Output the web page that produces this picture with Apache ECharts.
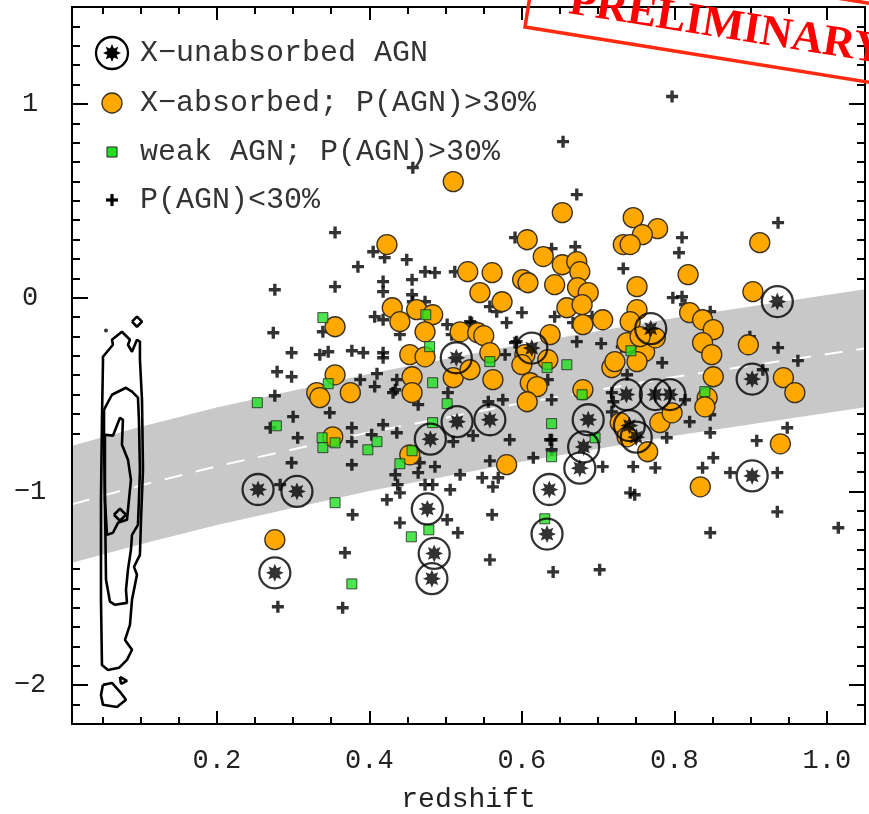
<!DOCTYPE html>
<html><head><meta charset="utf-8">
<script src="https://cdn.jsdelivr.net/npm/echarts@6.0.0/dist/echarts.min.js"></script>
<style>html,body{margin:0;padding:0;background:#fff}#chart{width:869px;height:814px}</style>
</head><body><div id="chart"></div>
<script>
// ---------- axis ticks ----------
const xMajorTicks = [0.2, 0.4, 0.6, 0.8, 1.0];
const xMinorTicks = [0.05,0.1,0.15,0.25,0.3,0.35,0.45,0.5,0.55,0.65,0.7,0.75,0.85,0.9,0.95];
const yMajorTicks = [-2, -1, 0, 1];
const yMinorTicks = [-2.1,-1.9,-1.8,-1.7,-1.6,-1.5,-1.4,-1.3,-1.2,-1.1,-0.9,-0.8,-0.7,-0.6,-0.5,-0.4,-0.3,-0.2,-0.1,0.1,0.2,0.3,0.4,0.5,0.6,0.7,0.8,0.9,1.1,1.2,1.3,1.4];
const xRange = [0.01, 1.05];
const yRange = [-2.2, 1.5];

// ---------- shaded relation band ----------
const bandZ    = [0.01, 0.1, 0.2, 0.4, 0.6, 0.8, 1.05];
const bandHigh = [-0.764, -0.666, -0.567, -0.392, -0.240, -0.105, 0.043];
const bandLow  = [-1.368, -1.272, -1.173, -0.998, -0.847, -0.713, -0.566];
const bandMid  = [-1.066, -0.969, -0.870, -0.695, -0.544, -0.409, -0.262];

// ---------- local-galaxy contours ----------
const contourOuter = [[0.0506,-0.336],[0.0506,-0.305],[0.0637,-0.243],[0.0624,-0.217],[0.0755,-0.176],[0.086,-0.217],[0.0834,-0.243],[0.0887,-0.279],[0.0952,-0.217],[0.0991,-0.227],[0.0991,-0.320],[0.1018,-0.527],[0.1031,-0.888],[0.1005,-1.146],[0.0991,-1.327],[0.0913,-1.389],[0.0952,-1.430],[0.0887,-1.559],[0.086,-1.688],[0.0795,-1.766],[0.0887,-1.817],[0.0821,-1.869],[0.0716,-1.910],[0.0572,-1.921],[0.0493,-1.895],[0.048,-1.559],[0.048,-1.043],[0.0493,-0.630],[0.0506,-0.336]];
const contourMiddle = [[0.052,-0.578],[0.0624,-0.501],[0.0808,-0.465],[0.0887,-0.485],[0.0965,-0.516],[0.0978,-0.630],[0.0991,-0.888],[0.0978,-1.043],[0.0965,-1.172],[0.0887,-1.224],[0.0873,-1.301],[0.0834,-1.404],[0.0808,-1.508],[0.0821,-1.575],[0.0664,-1.585],[0.0598,-1.569],[0.0546,-1.456],[0.0532,-1.043],[0.052,-0.733],[0.052,-0.578]];
const contourInner = [[0.0532,-0.707],[0.0637,-0.712],[0.0729,-0.620],[0.0768,-0.630],[0.0755,-0.759],[0.0834,-0.836],[0.0873,-0.940],[0.0847,-1.043],[0.0821,-1.146],[0.0703,-1.162],[0.0637,-1.213],[0.0559,-1.224],[0.0532,-1.043],[0.0532,-0.707]];
const contourIslandTop = [[0.0887,-0.124],[0.0952,-0.098],[0.1018,-0.124],[0.0952,-0.150],[0.0887,-0.124]];
const contourIslandMid = [[0.0650,-1.120],[0.0729,-1.089],[0.0808,-1.120],[0.0729,-1.151],[0.0650,-1.120]];
const contourIslandTri = [[0.0729,-1.957],[0.0821,-1.977],[0.0742,-1.993],[0.0729,-1.957]];
const contourIslandLow = [[0.0506,-1.998],[0.0624,-1.988],[0.0729,-2.034],[0.0808,-2.075],[0.069,-2.112],[0.0506,-2.101],[0.048,-2.050],[0.0506,-1.998]];
const contourDot = [[0.0546,-0.170]];

// ---------- sources: [redshift, y] ----------
const xUnabsorbed = [[0.254,-0.99],[0.305,-1.00],[0.276,-1.42],[0.514,-0.31],[0.515,-0.64],[0.480,-0.73],[0.476,-1.09],[0.485,-1.32],[0.482,-1.45],[0.558,-0.63],[0.613,-0.26],[0.636,-0.99],[0.633,-1.22],[0.687,-0.63],[0.681,-0.77],[0.676,-0.88],[0.737,-0.50],[0.741,-0.66],[0.750,-0.72],[0.769,-0.16],[0.775,-0.50],[0.794,-0.50],[0.902,-0.42],[0.902,-0.92],[0.935,-0.02]];

const xAbsorbed = [[0.276,-1.249],[0.355,-0.150],[0.355,-0.398],[0.331,-0.490],[0.335,-0.516],[0.375,-0.490],[0.352,-0.718],[0.423,0.274],[0.430,-0.052],[0.440,-0.124],[0.462,-0.062],[0.483,-0.088],[0.473,-0.176],[0.453,-0.294],[0.473,-0.305],[0.456,-0.408],[0.456,-0.490],[0.453,-0.811],[0.510,0.599],[0.510,-0.413],[0.532,-0.372],[0.519,-0.176],[0.542,-0.181],[0.550,-0.196],[0.529,0.134],[0.561,0.129],[0.545,0.026],[0.574,-0.021],[0.558,-0.284],[0.562,-0.423],[0.580,-0.862],[0.607,0.299],[0.628,0.212],[0.601,0.093],[0.608,0.077],[0.643,0.067],[0.637,-0.191],[0.604,-0.294],[0.634,-0.320],[0.600,-0.346],[0.611,-0.439],[0.620,-0.459],[0.607,-0.537],[0.653,0.439],[0.653,0.170],[0.672,0.186],[0.676,0.134],[0.673,0.052],[0.687,0.026],[0.659,-0.052],[0.679,-0.036],[0.680,-0.139],[0.706,-0.114],[0.680,-0.475],[0.746,0.413],[0.778,0.356],[0.758,0.325],[0.733,0.274],[0.742,0.274],[0.751,0.057],[0.751,-0.062],[0.742,-0.124],[0.738,-0.232],[0.761,-0.279],[0.751,-0.330],[0.775,-0.207],[0.718,-0.361],[0.722,-0.330],[0.729,-0.645],[0.738,-0.718],[0.765,-0.795],[0.781,-0.645],[0.797,-0.594],[0.818,0.119],[0.820,-0.077],[0.837,-0.114],[0.851,-0.165],[0.837,-0.232],[0.849,-0.294],[0.851,-0.408],[0.843,-0.516],[0.840,-0.563],[0.834,-0.976],[0.897,-0.243],[0.912,0.284],[0.903,0.031],[0.943,-0.413],[0.958,-0.490],[0.939,-0.754],[0.755,-0.201]];

const weakAGN = [[0.253,-0.542],[0.278,-0.661],[0.339,-0.103],[0.346,-0.444],[0.338,-0.723],[0.339,-0.774],[0.355,-0.749],[0.398,-0.785],[0.410,-0.743],[0.355,-1.058],[0.377,-1.477],[0.440,-0.857],[0.456,-0.790],[0.483,-0.439],[0.474,-0.088],[0.479,-0.253],[0.502,-0.547],[0.483,-0.645],[0.455,-1.234],[0.478,-1.198],[0.558,-0.330],[0.633,-0.361],[0.659,-0.346],[0.639,-0.650],[0.639,-0.821],[0.630,-1.141],[0.679,-0.501],[0.743,-0.274],[0.840,-0.485],[0.696,-0.723]];

const lowPAGN = [[0.457,0.671],[0.355,0.336],[0.405,0.237],[0.420,0.207],[0.449,0.196],[0.385,0.160],[0.473,0.134],[0.486,0.129],[0.512,0.134],[0.276,0.041],[0.355,0.057],[0.418,0.083],[0.418,0.031],[0.456,0.093],[0.456,0.015],[0.457,-0.021],[0.473,-0.021],[0.591,0.310],[0.639,0.253],[0.558,-0.046],[0.567,-0.072],[0.600,-0.077],[0.580,-0.129],[0.643,-0.098],[0.407,-0.098],[0.418,-0.114],[0.274,-0.181],[0.339,-0.176],[0.298,-0.284],[0.335,-0.294],[0.346,-0.279],[0.377,-0.274],[0.392,-0.284],[0.418,-0.284],[0.418,-0.310],[0.502,-0.139],[0.532,-0.124],[0.508,-0.191],[0.440,-0.191],[0.578,-0.294],[0.593,-0.227],[0.279,-0.382],[0.298,-0.408],[0.276,-0.506],[0.410,-0.392],[0.388,-0.423],[0.407,-0.459],[0.431,-0.490],[0.503,-0.490],[0.300,-0.614],[0.270,-0.671],[0.306,-0.723],[0.298,-0.852],[0.283,-0.965],[0.348,-0.594],[0.377,-0.671],[0.377,-0.743],[0.377,-0.862],[0.418,-0.656],[0.436,-0.697],[0.403,-0.707],[0.378,-1.120],[0.368,-1.316],[0.365,-1.600],[0.280,-1.595],[0.423,-1.043],[0.440,-1.162],[0.434,-0.914],[0.437,-0.965],[0.440,-1.007],[0.434,-0.475],[0.464,-0.552],[0.436,-0.423],[0.464,-0.903],[0.466,-0.852],[0.473,-0.965],[0.483,-0.965],[0.506,-0.991],[0.502,-1.146],[0.516,-1.213],[0.519,-0.914],[0.536,-0.712],[0.510,-0.743],[0.486,-0.872],[0.556,-0.537],[0.575,-0.527],[0.584,-0.733],[0.558,-0.842],[0.548,-0.929],[0.569,-0.929],[0.562,-0.976],[0.561,-1.120],[0.558,-1.353],[0.615,-0.826],[0.637,-0.733],[0.641,-1.415],[0.672,0.532],[0.670,0.263],[0.733,0.150],[0.810,0.310],[0.806,0.232],[0.798,0.000],[0.810,0.005],[0.814,-0.036],[0.534,-0.129],[0.667,-0.129],[0.692,-0.098],[0.672,-0.227],[0.704,-0.237],[0.591,-0.232],[0.784,-0.336],[0.634,-0.423],[0.797,1.038],[0.654,0.805],[0.936,0.387],[0.847,-0.072],[0.936,-0.258],[0.962,-0.325],[0.731,-0.253],[0.899,-0.201],[0.814,-0.527],[0.720,-0.537],[0.718,-0.589],[0.820,-0.640],[0.847,-0.604],[0.847,-0.697],[0.790,-0.723],[0.948,-0.671],[0.908,-0.738],[0.851,-0.826],[0.837,-0.878],[0.873,-0.903],[0.935,-0.903],[0.706,-0.872],[0.746,-0.872],[0.775,-0.878],[0.742,-1.007],[0.748,-1.017],[0.935,-1.105],[1.015,-1.187],[0.847,-1.213],[0.702,-1.404],[0.639,-0.527],[0.639,-0.733],[0.639,-0.785],[0.718,-0.490],[0.738,-0.398],[0.916,-0.372]];

// ---------- legend ----------
const legendLabels = ['X\u2212unabsorbed AGN', 'X\u2212absorbed; P(AGN)>30%', 'weak AGN; P(AGN)>30%', 'P(AGN)<30%'];

// ---------- styles ----------
const ORANGE = '#FFA800';
const GREEN = '#22E022';
const ASTER_PTS = [[0,-10],[2.1,-5.1],[7.07,-7.07],[5.1,-2.1],[10,0],[5.1,2.1],[7.07,7.07],[2.1,5.1],[0,10],[-2.1,5.1],[-7.07,7.07],[-5.1,2.1],[-10,0],[-5.1,-2.1],[-7.07,-7.07],[-2.1,-5.1]];
const ASTERISK = 'M' + ASTER_PTS.map(p => p[0] + ',' + p[1]).join('L') + 'Z';
const PLUS = 'M-1.4,-5L1.4,-5L1.4,-1.4L5,-1.4L5,1.4L1.4,1.4L1.4,5L-1.4,5L-1.4,1.4L-5,1.4L-5,-1.4L-1.4,-1.4Z';
const MONO = '"Liberation Mono", "DejaVu Sans Mono", monospace';

const gridBox = {left: 72, top: 7, width: 793, height: 717};

function xAxisDef(gridIndex, position, ticks, len, withLabels) {
  return {
    type: 'value', gridIndex, position, min: xRange[0], max: xRange[1],
    axisLine: {show: false, onZero: false},
    splitLine: {show: false},
    axisTick: {show: true, inside: true, length: len, customValues: ticks, lineStyle: {color: '#000', width: 2}},
    axisLabel: withLabels ? {show: true, customValues: ticks, formatter: v => v.toFixed(1),
      fontFamily: MONO, fontSize: 27, color: '#222', margin: 23} : {show: false},
    name: withLabels ? 'redshift' : '', nameLocation: 'middle', nameGap: 62,
    nameTextStyle: {fontFamily: MONO, fontSize: 28, color: '#222'}
  };
}
function yAxisDef(gridIndex, position, ticks, len, withLabels) {
  return {
    type: 'value', gridIndex, position, min: yRange[0], max: yRange[1],
    axisLine: {show: false, onZero: false},
    splitLine: {show: false},
    axisTick: {show: true, inside: true, length: len, customValues: ticks, lineStyle: {color: '#000', width: 2}},
    axisLabel: withLabels ? {show: true, customValues: ticks, align: 'center',
      formatter: v => (v < 0 ? '\u2212' + Math.abs(v) : String(v)),
      fontFamily: MONO, fontSize: 27, color: '#222', margin: 42} : {show: false}
  };
}

function contourSeries(pts, name) {
  return {type: 'line', name, data: pts, symbol: 'none', silent: true, z: 3,
    lineStyle: {color: '#000', width: 2.6}};
}

const legAsterCx = 112, legAsterCy = 53, legAsterScale = 0.9;
const legPlusCx = 112, legPlusCy = 200;

const option = {
  animation: false,
  backgroundColor: '#fff',
  grid: [
    Object.assign({show: true, borderColor: '#000', borderWidth: 2, backgroundColor: 'transparent', z: 10,
      containLabel: false, outerBoundsMode: 'none'}, gridBox),
    Object.assign({show: false, containLabel: false, outerBoundsMode: 'none'}, gridBox)
  ],
  xAxis: [
    xAxisDef(0, 'bottom', xMajorTicks, 13, true),
    xAxisDef(0, 'top', xMajorTicks, 13, false),
    xAxisDef(1, 'bottom', xMinorTicks, 7, false),
    xAxisDef(1, 'top', xMinorTicks, 7, false)
  ],
  yAxis: [
    yAxisDef(0, 'left', yMajorTicks, 16, true),
    yAxisDef(0, 'right', yMajorTicks, 16, false),
    yAxisDef(1, 'left', yMinorTicks, 8, false),
    yAxisDef(1, 'right', yMinorTicks, 8, false)
  ],
  series: [
    {
      type: 'custom', name: 'band', silent: true, z: 1,
      data: [[bandZ[0], bandLow[0]]],
      renderItem: function (params, api) {
        const pts = [];
        for (let i = 0; i < bandZ.length; i++) pts.push(api.coord([bandZ[i], bandHigh[i]]));
        for (let i = bandZ.length - 1; i >= 0; i--) pts.push(api.coord([bandZ[i], bandLow[i]]));
        return {type: 'polygon', shape: {points: pts}, style: {fill: '#c8c8c8'}};
      }
    },
    {
      type: 'line', name: 'relation', silent: true, z: 2, symbol: 'none',
      data: bandZ.map((z, i) => [z, bandMid[i]]),
      lineStyle: {color: '#ffffff', width: 2, type: [18, 14]}
    },
    contourSeries(contourOuter, 'c1'),
    contourSeries(contourMiddle, 'c2'),
    contourSeries(contourInner, 'c3'),
    contourSeries(contourIslandTop, 'c4'),
    contourSeries(contourIslandMid, 'c5'),
    contourSeries(contourIslandTri, 'c6'),
    contourSeries(contourIslandLow, 'c7'),
    {type: 'scatter', name: 'dot', data: contourDot, symbol: 'circle', symbolSize: 4, silent: true, z: 3,
      itemStyle: {color: '#000'}},
    {type: 'scatter', name: 'P(AGN)<30%', data: lowPAGN, symbol: 'path://' + PLUS, symbolSize: 12, silent: true, z: 4,
      itemStyle: {color: '#000'}},
    {type: 'scatter', name: 'X-absorbed', data: xAbsorbed, symbol: 'circle', symbolSize: 20, silent: true, z: 5,
      itemStyle: {color: ORANGE, borderColor: '#3a3020', borderWidth: 1.3, opacity: 1}},
    {type: 'scatter', name: 'weak AGN', data: weakAGN, symbol: 'rect', symbolSize: 10, silent: true, z: 6,
      itemStyle: {color: GREEN, borderColor: '#222', borderWidth: 1}},
    {type: 'scatter', name: 'X-unabsorbed ring', data: xUnabsorbed, symbol: 'circle', symbolSize: 31, silent: true, z: 7,
      itemStyle: {color: 'rgba(0,0,0,0)', borderColor: '#000', borderWidth: 2.3}},
    {type: 'scatter', name: 'X-unabsorbed', data: xUnabsorbed, symbol: 'path://' + ASTERISK, symbolSize: 18, silent: true, z: 8,
      itemStyle: {color: '#000'}}
  ],
  graphic: [
    {type: 'circle', shape: {cx: legAsterCx, cy: legAsterCy, r: 16}, style: {fill: 'none', stroke: '#000', lineWidth: 2.3}, z: 20},
    {type: 'polygon', shape: {points: ASTER_PTS.map(p => [legAsterCx + p[0] * legAsterScale, legAsterCy + p[1] * legAsterScale])}, style: {fill: '#000'}, z: 20},
    {type: 'circle', shape: {cx: 112, cy: 103, r: 10}, style: {fill: ORANGE, stroke: '#3a3020', lineWidth: 1.3}, z: 20},
    {type: 'rect', shape: {x: 107, y: 147, width: 10, height: 10}, style: {fill: GREEN, stroke: '#222', lineWidth: 1}, z: 20},
    {type: 'rect', shape: {x: legPlusCx - 1.6, y: legPlusCy - 6, width: 3.2, height: 12}, style: {fill: '#000'}, z: 20},
    {type: 'rect', shape: {x: legPlusCx - 6, y: legPlusCy - 1.6, width: 12, height: 3.2}, style: {fill: '#000'}, z: 20},
    {type: 'text', x: 140, y: 53, z: 20, style: {text: legendLabels[0], font: '30px ' + MONO, fill: '#333', verticalAlign: 'middle'}},
    {type: 'text', x: 140, y: 103, z: 20, style: {text: legendLabels[1], font: '30px ' + MONO, fill: '#333', verticalAlign: 'middle'}},
    {type: 'text', x: 140, y: 152, z: 20, style: {text: legendLabels[2], font: '30px ' + MONO, fill: '#333', verticalAlign: 'middle'}},
    {type: 'text', x: 140, y: 200, z: 20, style: {text: legendLabels[3], font: '30px ' + MONO, fill: '#333', verticalAlign: 'middle'}},
    {type: 'group', x: 525, y: 27, rotation: -0.159, z: 30, children: [
      {type: 'rect', shape: {x: 0, y: -78, width: 420, height: 78}, style: {fill: 'none', stroke: '#ff2a10', lineWidth: 3.5}, z: 30},
      {type: 'text', x: 40, y: -32, z: 30, style: {text: 'PRELIMINARY', font: 'bold 44px "Liberation Serif"', fill: '#ff0000', verticalAlign: 'middle', align: 'left'}}
    ]}
  ]
};

const chart = echarts.init(document.getElementById('chart'), null, {renderer: 'canvas'});
chart.setOption(option);
</script>
</body></html>
